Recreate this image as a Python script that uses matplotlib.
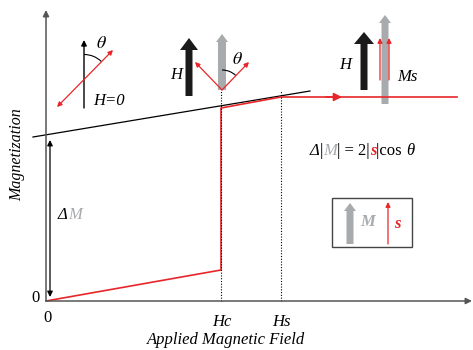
import matplotlib.pyplot as plt
from matplotlib.patches import FancyArrow, Arc, Rectangle

plt.rcParams['font.family'] = ['Liberation Serif', 'DejaVu Serif']
plt.rcParams['mathtext.fontset'] = 'stix'

RED = '#e8262a'
GRAY = '#a7abae'
AX = '#555555'

# magnetization curve (field, magnetization), arbitrary units
curve_h = [0, 175, 175, 235, 411]
curve_m = [0, 31, 193, 204, 204]
# linear background line
line_h = [-13, 264]
line_m = [164, 210]
# characteristic fields
Hc = 175
Hs = 235
m_sat = 211
delta_m = [4, 161]
# axis extents
h_max = 426
m_max = 291


def chain(ax, x, y, pieces, size=12):
    # place text pieces one after another, each with its own style
    t = None
    for s, kw in pieces:
        if t is None:
            t = ax.text(x, y, s, fontsize=size, va='bottom', ha='left', **kw)
        else:
            t = ax.annotate(s, xy=(1, 0), xycoords=t, fontsize=size,
                            va='bottom', ha='left', **kw)
    return t


fig = plt.figure(figsize=(4.73, 3.5), dpi=100)
ax = fig.add_axes([0, 0, 1, 1])
ax.set_xlim(-46, 427)
ax.set_ylim(-49, 301)
ax.axis('off')

# axes with arrows
ax.annotate('', xy=(0, m_max), xytext=(0, 0),
            arrowprops=dict(arrowstyle='-|>', color=AX, lw=1.1, mutation_scale=9, shrinkA=0, shrinkB=0))
ax.annotate('', xy=(h_max, 0), xytext=(0, 0),
            arrowprops=dict(arrowstyle='-|>', color=AX, lw=1.1, mutation_scale=9, shrinkA=0, shrinkB=0))

# background line and curve
ax.plot(line_h, line_m, color='black', lw=0.9)
ax.plot(curve_h, curve_m, color=RED, lw=1.2)
ax.annotate('', xy=(296, curve_m[-1]), xytext=(280, curve_m[-1]),
            arrowprops=dict(arrowstyle='-|>', color=RED, lw=1.2, mutation_scale=12, shrinkA=0, shrinkB=0))

# dotted guides
for h in [Hc, Hs]:
    ax.plot([h, h], [0, m_sat], color='black', lw=0.8, ls=(0, (1, 1.5)))

# Delta M arrow
ax.annotate('', xy=(4, delta_m[0]), xytext=(4, delta_m[1]),
            arrowprops=dict(arrowstyle='<|-|>', color='black', lw=0.9, mutation_scale=8, shrinkA=0, shrinkB=0))
chain(ax, 12, 78, [('Δ', dict(style='italic')),
                   ('M', dict(style='italic', color=GRAY))])

# labels
ax.text(-11, 3, '0', fontsize=12, ha='center', va='center')
ax.text(1, -17, '0', fontsize=12, ha='center', va='center')
ax.text(Hc + 1, -21, 'Hc', fontsize=12, style='italic', ha='center', va='center')
ax.text(Hs, -21, 'Hs', fontsize=12, style='italic', ha='center', va='center')
ax.text(180, -39, 'Applied Magnetic Field', fontsize=12, style='italic', ha='center', va='center')
ax.text(-29, 146, 'Magnetization', fontsize=11.5, style='italic', rotation=90, ha='center', va='center')

# H = 0 sketch
ax.annotate('', xy=(38, 261), xytext=(38, 193),
            arrowprops=dict(arrowstyle='-|>', color='black', lw=1.0, mutation_scale=8, shrinkA=0, shrinkB=0))
ax.annotate('', xy=(67, 251), xytext=(11, 194),
            arrowprops=dict(arrowstyle='<|-|>', color=RED, lw=0.9, mutation_scale=7, shrinkA=0, shrinkB=0))
ax.add_patch(Arc((38, 221.5), 50, 50, theta1=46, theta2=90, color='black', lw=0.8))
ax.text(55, 257, r'$\theta$', fontsize=13, ha='center', va='center')
ax.text(47, 200, 'H=0', fontsize=12, style='italic', ha='left', va='center')

# sketch at Hc
ax.add_patch(FancyArrow(143, 205, 0, 58, width=7, head_width=18, head_length=12,
                        length_includes_head=True, color='#1a1a1a', lw=0))
ax.add_patch(FancyArrow(176, 211, 0, 56, width=8, head_width=12, head_length=8,
                        length_includes_head=True, color=GRAY, lw=0))
for dx in [-27, 27]:
    ax.annotate('', xy=(176 + dx, 239), xytext=(176, 211),
                arrowprops=dict(arrowstyle='-|>', color=RED, lw=0.9, mutation_scale=7, shrinkA=0, shrinkB=0))
ax.add_patch(Arc((176, 211), 40, 40, theta1=46, theta2=90, color='black', lw=0.8))
ax.text(191, 241, r'$\theta$', fontsize=13, ha='center', va='center')
ax.text(130, 226, 'H', fontsize=12, style='italic', ha='center', va='center')

# sketch at saturation
ax.add_patch(FancyArrow(318, 211, 0, 58, width=7, head_width=20, head_length=12,
                        length_includes_head=True, color='#1a1a1a', lw=0))
for x in [334, 343]:
    ax.annotate('', xy=(x, 263), xytext=(x, 221),
                arrowprops=dict(arrowstyle='-|>', color=RED, lw=0.9, mutation_scale=7, shrinkA=0, shrinkB=0))
ax.add_patch(FancyArrow(339, 197, 0, 89, width=7, head_width=12, head_length=8,
                        length_includes_head=True, color=GRAY, lw=0))
ax.text(299, 236, 'H', fontsize=12, style='italic', ha='center', va='center')
ax.text(361, 224, 'Ms', fontsize=12, style='italic', ha='center', va='center')

# formula
chain(ax, 264, 142, [('Δ', dict(style='italic')),
                     ('|', {}),
                     ('M', dict(style='italic', color=GRAY)),
                     ('| = 2|', {}),
                     ('s', dict(style='italic', weight='bold', color=RED)),
                     ('|cos ', {}),
                     ('θ', dict(style='italic'))])

# legend box
ax.add_patch(Rectangle((286, 54), 80, 49, fill=False, edgecolor='#444444', lw=1.0))
ax.add_patch(FancyArrow(304, 57, 0, 41, width=7, head_width=12, head_length=8,
                        length_includes_head=True, color=GRAY, lw=0))
ax.text(314, 79, 'M', fontsize=12, style='italic', weight='bold', color=GRAY, ha='left', va='center')
ax.annotate('', xy=(342, 99), xytext=(342, 57),
            arrowprops=dict(arrowstyle='-|>', color=RED, lw=0.9, mutation_scale=7, shrinkA=0, shrinkB=0))
ax.text(351, 77, 's', fontsize=12, style='italic', weight='bold', color=RED, ha='center', va='center')

fig.savefig('out.png', dpi=100)
